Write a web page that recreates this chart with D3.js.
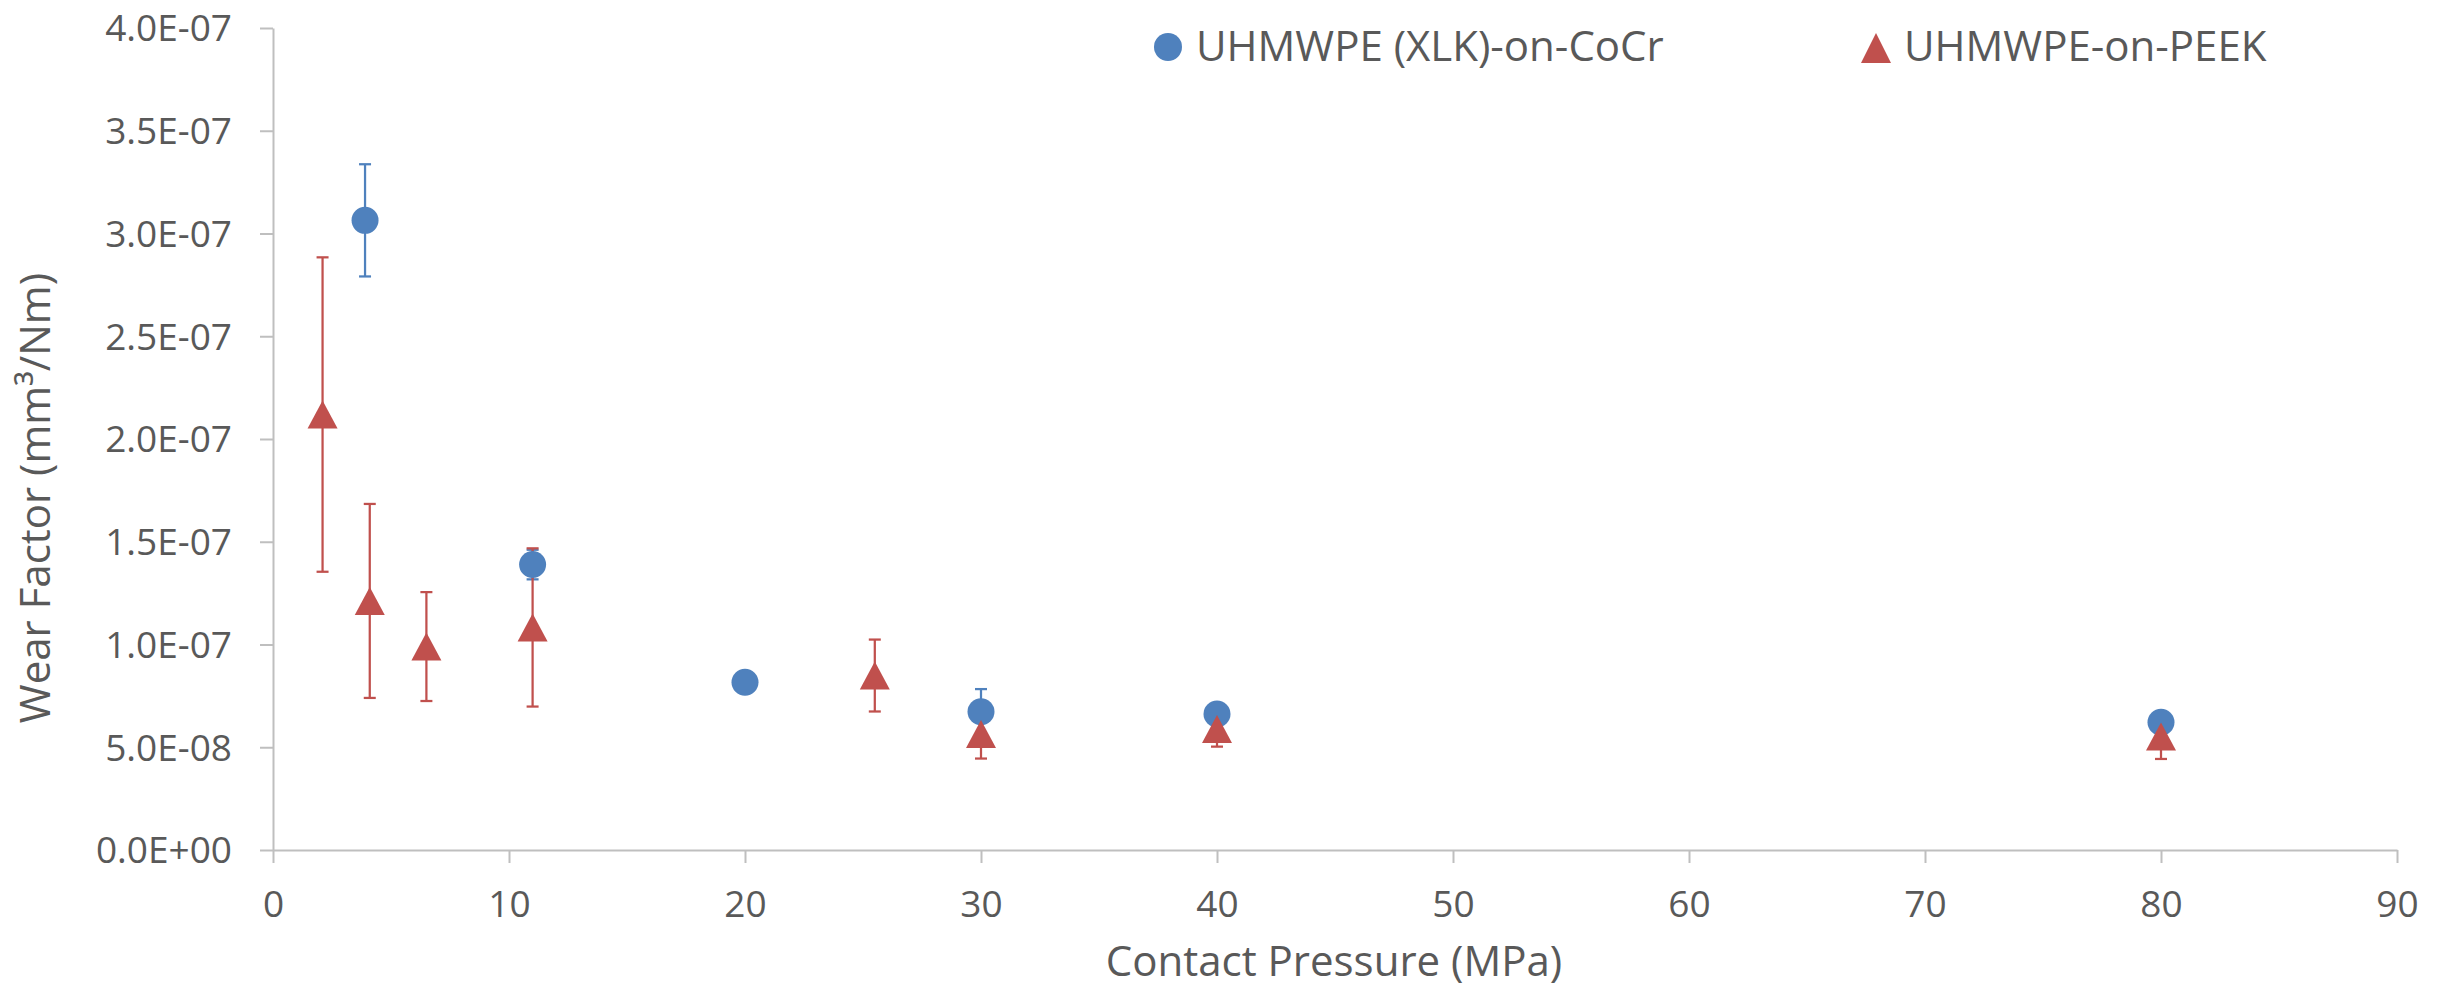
<!DOCTYPE html>
<html>
<head>
<meta charset="utf-8">
<script src="https://cdn.jsdelivr.net/npm/d3@7"></script>
<style>
  body { margin: 0; background: #fff; }
  text { font-family: "Open Sans", sans-serif; fill: #595959; }
</style>
</head>
<body>
<svg id="chart"></svg>
<script>
// contact pressure (MPa) and wear factor (mm3/Nm)
const xlkX = [3.9, 11, 20, 30, 40, 80];
const xlkY = [3.064e-7, 1.389e-7, 8.16e-8, 6.73e-8, 6.62e-8, 6.22e-8];
const xlkErr = [2.73e-8, 7.2e-9, 0, 1.1e-8, 0, 0];

const peekX = [2.1, 4.1, 6.5, 11, 25.5, 30, 40, 80];
const peekY = [2.119e-7, 1.212e-7, 9.9e-8, 1.083e-7, 8.49e-8, 5.65e-8, 5.89e-8, 5.52e-8];
const peekErr = [7.65e-8, 4.72e-8, 2.65e-8, 3.85e-8, 1.75e-8, 1.2e-8, 8.6e-9, 1.09e-8];

const seriesNames = ["UHMWPE (XLK)-on-CoCr", "UHMWPE-on-PEEK"];
const xTicks = [0, 10, 20, 30, 40, 50, 60, 70, 80, 90];
const yTicks = [0, 5e-8, 1e-7, 1.5e-7, 2e-7, 2.5e-7, 3e-7, 3.5e-7, 4e-7];
const yTickLabels = ["0.0E+00", "5.0E-08", "1.0E-07", "1.5E-07", "2.0E-07", "2.5E-07", "3.0E-07", "3.5E-07", "4.0E-07"];

const width = 2448;
const height = 991;
const blue = "#4F81BD";
const red = "#C0504D";
const axisColor = "#BFBFBF";

const svg = d3.select("#chart")
              .attr("width", width)
              .attr("height", height);

const xScale = d3.scaleLinear().domain([0, 90]).range([273, 2397]);
const yScale = d3.scaleLinear().domain([0, 4e-7]).range([850, 28]);

const xAxis = d3.axisBottom(xScale)
                .tickValues(xTicks)
                .tickSize(13)
                .tickSizeOuter(0)
                .tickFormat(d3.format("d"));
const yAxis = d3.axisLeft(yScale)
                .tickValues(yTicks)
                .tickSize(13)
                .tickSizeOuter(0)
                .tickFormat((d, i) => yTickLabels[i]);

const gx = svg.append("g")
              .attr("transform", `translate(0, ${yScale(0)})`)
              .call(xAxis);
const gy = svg.append("g")
              .attr("transform", `translate(${xScale(0)}, 0)`)
              .call(yAxis);

[gx, gy].forEach(g => {
  g.select(".domain").attr("stroke", axisColor).attr("stroke-width", 2);
  g.selectAll(".tick line").attr("stroke", axisColor).attr("stroke-width", 2);
  g.selectAll(".tick text")
   .style("font-family", "'Open Sans', sans-serif")
   .style("font-size", "37px")
   .attr("fill", "#595959");
});
gx.selectAll(".tick text").attr("y", 67).attr("dy", 0);
gy.selectAll(".tick text").attr("x", -41).attr("dy", "0.35em");

// error bars first, markers on top
function errorBars(xs, ys, errs, color) {
  const rows = xs.map((x, i) => ({ x, y: ys[i], e: errs[i] })).filter(d => d.e > 0);
  const g = svg.append("g")
               .attr("stroke", color)
               .attr("stroke-width", 2.25)
               .attr("fill", "none");
  g.selectAll(".stem")
   .data(rows)
   .enter()
   .append("line")
   .attr("x1", d => xScale(d.x))
   .attr("x2", d => xScale(d.x))
   .attr("y1", d => yScale(d.y + d.e))
   .attr("y2", d => yScale(d.y - d.e));
  ["top", "bottom"].forEach(side => {
    g.selectAll(".cap-" + side)
     .data(rows)
     .enter()
     .append("line")
     .attr("x1", d => xScale(d.x) - 6)
     .attr("x2", d => xScale(d.x) + 6)
     .attr("y1", d => yScale(side === "top" ? d.y + d.e : d.y - d.e))
     .attr("y2", d => yScale(side === "top" ? d.y + d.e : d.y - d.e));
  });
}
errorBars(xlkX, xlkY, xlkErr, blue);
errorBars(peekX, peekY, peekErr, red);

const triangle = "M0,-14L15,14L-15,14Z";

svg.selectAll(".xlk")
   .data(xlkX)
   .enter()
   .append("ellipse")
   .attr("class", "xlk")
   .attr("cx", d => xScale(d))
   .attr("cy", (d, i) => yScale(xlkY[i]))
   .attr("rx", 13.5)
   .attr("ry", 13.5)
   .attr("fill", blue);

svg.selectAll(".peek")
   .data(peekX)
   .enter()
   .append("path")
   .attr("class", "peek")
   .attr("d", triangle)
   .attr("transform", (d, i) => `translate(${xScale(d)}, ${yScale(peekY[i])})`)
   .attr("fill", red);

// legend
const legend = svg.append("g");
legend.append("circle")
      .attr("cx", 1168)
      .attr("cy", 47)
      .attr("r", 14)
      .attr("fill", blue);
legend.append("text")
      .attr("x", 1196)
      .attr("y", 61)
      .style("font-size", "42px")
      .text(seriesNames[0]);
legend.append("path")
      .attr("d", "M0,-15L15,15L-15,15Z")
      .attr("transform", "translate(1876, 48)")
      .attr("fill", red);
legend.append("text")
      .attr("x", 1904)
      .attr("y", 61)
      .style("font-size", "42px")
      .text(seriesNames[1]);

// axis titles
svg.append("text")
   .attr("x", 1334)
   .attr("y", 976)
   .attr("text-anchor", "middle")
   .style("font-size", "42px")
   .text("Contact Pressure (MPa)");

svg.append("text")
   .attr("transform", "translate(50, 498) rotate(-90)")
   .attr("text-anchor", "middle")
   .style("font-size", "42px")
   .text("Wear Factor (mm³/Nm)");
</script>
</body>
</html>
